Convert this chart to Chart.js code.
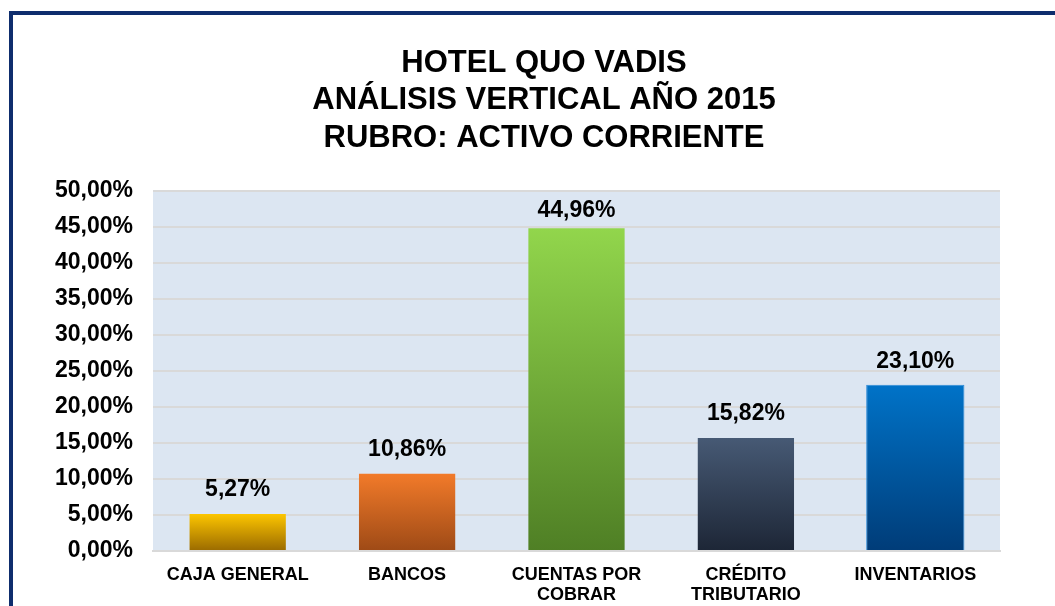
<!DOCTYPE html>
<html>
<head>
<meta charset="utf-8">
<script src="https://cdn.jsdelivr.net/npm/chart.js@4.4.0/dist/chart.umd.min.js"></script>
<style>
  body { margin: 0; background: #fff; overflow: hidden; }
  #frame { position: absolute; left: 9px; top: 11px; width: 1100px; height: 650px; border: 4px solid #0e2d6d; box-sizing: border-box; }
  #wrap { position: absolute; left: 0; top: 0; width: 1055px; height: 606px; }
</style>
</head>
<body>
<div id="frame"></div>
<div id="wrap"><canvas id="barChart" width="1055" height="606"></canvas></div>
<script>
const categories = ['CAJA GENERAL', 'BANCOS', ['CUENTAS POR', 'COBRAR'], ['CRÉDITO', 'TRIBUTARIO'], 'INVENTARIOS'];
const values = [5.27, 10.86, 44.96, 15.82, 23.10];
const topColors = ['#ffc800', '#f37b2a', '#92d64c', '#475a75', '#0073c8'];
const bottomColors = ['#9a6a00', '#9e4a16', '#4f7f25', '#1d2636', '#003c78'];
const titleLines = ['HOTEL QUO VADIS', 'ANÁLISIS VERTICAL AÑO 2015', 'RUBRO: ACTIVO CORRIENTE'];

const FONT = '"Liberation Sans", Arial, sans-serif';

function fmt(v) {
    return v.toFixed(2).replace('.', ',') + '%';
}

// plot background, title and data labels
const decor = {
    id: 'decor',
    beforeDraw(chart) {
        const a = chart.chartArea;
        const c = chart.ctx;
        c.save();
        c.fillStyle = '#dce6f2';
        c.fillRect(a.left, a.top, a.right - a.left, a.bottom - a.top);
        c.restore();
    },
    afterDraw(chart) {
        const c = chart.ctx;
        c.save();
        c.font = 'bold 31px ' + FONT;
        c.fillStyle = '#000';
        c.textAlign = 'center';
        c.textBaseline = 'middle';
        titleLines.forEach((t, i) => c.fillText(t, 544, 63 + i * 37.5));
        c.restore();
    },
    afterDatasetsDraw(chart) {
        const c = chart.ctx;
        const a = chart.chartArea;
        c.save();
        c.font = 'bold 23px ' + FONT;
        c.fillStyle = '#000';
        c.textAlign = 'center';
        c.textBaseline = 'middle';
        chart.getDatasetMeta(0).data.forEach((bar, i) => {
            const y = Math.max(a.top + 20, bar.y - 23);
            c.fillText(fmt(values[i]), bar.x, y);
        });
        c.restore();
    }
};

const ctx = document.getElementById('barChart').getContext('2d');
const chart = new Chart(ctx, {
    type: 'bar',
    data: {
        labels: categories,
        datasets: [{
            data: values,
            backgroundColor: function (context) {
                const ch = context.chart;
                const a = ch.chartArea;
                if (!a) return topColors[context.dataIndex];
                const yTop = ch.scales.y.getPixelForValue(values[context.dataIndex]);
                const g = ch.ctx.createLinearGradient(0, yTop, 0, a.bottom);
                g.addColorStop(0, topColors[context.dataIndex]);
                g.addColorStop(1, bottomColors[context.dataIndex]);
                return g;
            },
            borderColor: ['rgba(0,0,0,0)', 'rgba(0,0,0,0)', 'rgba(0,0,0,0)', 'rgba(0,0,0,0)', '#2b8ad8'],
            borderWidth: 1,
            categoryPercentage: 1,
            barPercentage: 0.58
        }]
    },
    options: {
        responsive: false,
        animation: false,
        layout: { padding: { left: 0, right: 55, top: 191, bottom: 0 } },
        plugins: {
            legend: { display: false },
            tooltip: { enabled: false },
            title: { display: false }
        },
        scales: {
            x: {
                afterFit(scale) { scale.height = 55; },
                grid: { display: false, drawTicks: false },
                border: { color: '#d9d9d9', width: 2 },
                ticks: {
                    color: '#000',
                    maxRotation: 0,
                    autoSkip: false,
                    padding: 14,
                    font: { family: FONT, size: 18, weight: 'bold', lineHeight: 1.12 }
                }
            },
            y: {
                min: 0,
                max: 50,
                afterFit(scale) { scale.width = 153; },
                grid: { color: '#d9d9d9', lineWidth: 2, drawTicks: false },
                border: { display: false },
                ticks: {
                    stepSize: 5,
                    color: '#000',
                    padding: 20,
                    font: { family: FONT, size: 23, weight: 'bold' },
                    callback: v => fmt(v)
                }
            }
        }
    },
    plugins: [decor]
});
</script>
</body>
</html>
